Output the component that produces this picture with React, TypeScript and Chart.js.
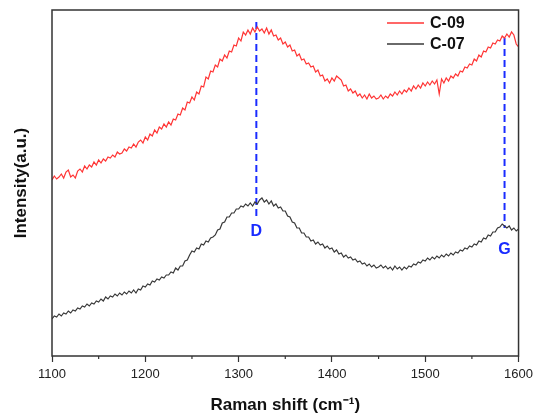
import React, { useEffect, useRef } from "react";
import { Chart, registerables } from "chart.js";

Chart.register(...registerables);

// Raman shift sampling grid (cm-1): 1100 to 1600 every 2.5
const shiftStart = 1100;
const shiftStep = 2.5;

const c09 = [
  176, 180, 177, 179, 182, 178, 184, 186, 179, 181,
  178, 185, 187, 184, 190, 187, 191, 189, 194, 191,
  196, 193, 197, 195, 199, 198, 201, 199, 204, 202,
  203, 207, 205, 209, 208, 212, 209, 214, 216, 213,
  219, 216, 222, 220, 226, 223, 229, 227, 232, 229,
  234, 231, 237, 236, 242, 241, 248, 246, 254, 253,
  259, 256, 264, 262, 270, 269, 279, 277, 285, 284,
  291, 289, 297, 295, 301, 298, 305, 304, 311, 310,
  318, 315, 324, 321, 326, 322, 328, 324, 329, 325,
  327, 323, 328, 322, 326, 320, 321, 316, 318, 312,
  314, 309, 311, 305, 306, 300, 302, 296, 297, 292,
  293, 289, 290, 284, 286, 280, 281, 275, 277, 273,
  278, 275, 280, 278, 276, 270, 271, 265, 267, 263,
  265, 260, 262, 258, 261, 257, 262, 258, 260, 257,
  258, 261, 257, 260, 258, 262, 260, 264, 261, 265,
  262, 266, 264, 268, 265, 270, 267, 271, 268, 273,
  270, 274, 271, 275, 272, 276, 262, 277, 273, 278,
  275, 280, 278, 282, 280, 285, 284, 289, 288, 292,
  291, 297, 295, 301, 299, 305, 304, 309, 308, 313,
  312, 316, 315, 320, 318, 322, 319, 324, 321, 312,
  309,
];

const c07 = [
  37, 40, 39, 42, 40, 43, 42, 45, 43, 46,
  45, 48, 47, 50, 49, 52, 50, 53, 52, 55,
  54, 57, 55, 59, 57, 60, 59, 62, 60, 63,
  61, 64, 62, 65, 63, 66, 63, 67, 66, 70,
  69, 72, 71, 75, 74, 77, 76, 79, 78, 81,
  81, 84, 83, 88, 86, 90, 90, 95, 96, 101,
  105, 104, 108, 107, 112, 111, 115, 114, 118, 119,
  121, 126, 127, 133, 134, 139, 139, 143, 143, 147,
  147, 150, 149, 152, 150, 153, 150, 154, 152, 156,
  158, 154, 156, 152, 155, 150, 152, 148, 149, 145,
  145, 140, 139, 134, 133, 128, 128, 123, 123, 119,
  119, 115, 116, 112, 114, 111, 112, 108, 110, 107,
  108, 104, 106, 102, 103, 99, 101, 98, 99, 96,
  97, 94, 95, 92, 93, 90, 92, 89, 91, 88,
  89, 91, 88, 90, 87, 89, 86, 90, 87, 89,
  86, 89, 87, 90, 89, 92, 91, 94, 93, 96,
  95, 98, 96, 99, 97, 100, 98, 101, 99, 102,
  100, 103, 101, 104, 103, 106, 105, 108, 107, 110,
  109, 112, 111, 115, 114, 118, 117, 121, 120, 124,
  124, 128, 129, 132, 130, 128, 130, 126, 128, 125,
  127,
];

const seriesLabels = ["C-09", "C-07"];
const xTickValues = [1100, 1200, 1300, 1400, 1500, 1600];
const xMinorTicks = [1150, 1250, 1350, 1450, 1550];
const peakNames = ["D", "G"];
const peakShift = [1319, 1585];
const peakLineTop = [334, 318];
const peakLineBottom = [136, 128];
const peakLabelY = [124, 106];

const FONT = "'Liberation Sans', Arial, sans-serif";
const RED = "#ff3434";
const DARK = "#383838";
const BLUE = "#1a2cff";

const framePlugin = {
  id: "frameAndExtras",
  afterDraw(chart: any) {
    const { ctx, chartArea, scales } = chart;
    const xs = scales.x;
    const ys = scales.y;
    ctx.save();
    ctx.strokeStyle = "#333";
    ctx.lineWidth = 1.5;
    ctx.strokeRect(chartArea.left, chartArea.top, chartArea.right - chartArea.left, chartArea.bottom - chartArea.top);
    ctx.lineWidth = 1.2;
    xMinorTicks.forEach((v) => {
      const px = xs.getPixelForValue(v);
      ctx.beginPath();
      ctx.moveTo(px, chartArea.bottom);
      ctx.lineTo(px, chartArea.bottom + 3);
      ctx.stroke();
    });
    ctx.fillStyle = BLUE;
    ctx.font = `bold 16px ${FONT}`;
    ctx.textAlign = "center";
    ctx.textBaseline = "middle";
    peakNames.forEach((n, i) => {
      ctx.fillText(n, xs.getPixelForValue(peakShift[i]), ys.getPixelForValue(peakLabelY[i]));
    });
    const lx0 = 387;
    const lx1 = 424;
    const ly0 = 23;
    const dy = 21;
    ctx.font = `bold 16px ${FONT}`;
    ctx.textAlign = "left";
    seriesLabels.forEach((lab, i) => {
      const ds = chart.data.datasets[i];
      const y = ly0 + i * dy;
      ctx.strokeStyle = ds.borderColor;
      ctx.lineWidth = 1.5;
      ctx.beginPath();
      ctx.moveTo(lx0, y);
      ctx.lineTo(lx1, y);
      ctx.stroke();
      ctx.fillStyle = "#111";
      ctx.fillText(lab, lx1 + 6, y + 1);
    });
    ctx.restore();
  },
};

export default function App() {
  const ref = useRef<HTMLCanvasElement | null>(null);
  useEffect(() => {
    if (!ref.current) return;
    const shifts = c09.map((_, i) => shiftStart + i * shiftStep);
    const datasets: any[] = [
      {
        label: seriesLabels[0],
        data: shifts.map((x, i) => ({ x, y: c09[i] })),
        borderColor: RED,
        borderWidth: 1.2,
        pointRadius: 0,
        tension: 0,
      },
      {
        label: seriesLabels[1],
        data: shifts.map((x, i) => ({ x, y: c07[i] })),
        borderColor: DARK,
        borderWidth: 1.2,
        pointRadius: 0,
        tension: 0,
      },
    ];
    peakNames.forEach((n, i) => {
      datasets.push({
        label: n,
        data: [
          { x: peakShift[i], y: peakLineTop[i] },
          { x: peakShift[i], y: peakLineBottom[i] },
        ],
        borderColor: BLUE,
        borderWidth: 2,
        borderDash: [7, 4],
        pointRadius: 0,
      });
    });
    const chart = new Chart(ref.current, {
      type: "line",
      data: { datasets },
      options: {
        animation: false,
        responsive: false,
        devicePixelRatio: 1,
        layout: { padding: { top: 10, right: 17, left: 0, bottom: 0 } },
        plugins: { legend: { display: false }, tooltip: { enabled: false } },
        scales: {
          x: {
            type: "linear",
            min: 1100,
            max: 1600,
            afterBuildTicks: (s: any) => {
              s.ticks = xTickValues.map((v) => ({ value: v }));
            },
            afterFit: (s: any) => {
              s.height = 58;
            },
            grid: { display: true, drawOnChartArea: false, tickLength: 6, tickColor: "#333", tickWidth: 1.2 },
            border: { display: false },
            ticks: {
              color: "#222",
              font: { family: FONT, size: 13 },
              padding: 5,
              maxRotation: 0,
              callback: (v: any) => String(v),
            },
            title: {
              display: true,
              text: "Raman shift (cm⁻¹)",
              color: "#111",
              font: { family: FONT, size: 17, weight: "bold", lineHeight: 1 },
              padding: { top: 0, bottom: 0 },
            },
          },
          y: {
            type: "linear",
            min: 0,
            max: 346,
            afterFit: (s: any) => {
              s.width = 52;
            },
            grid: { display: false },
            border: { display: false },
            ticks: { display: false },
            title: {
              display: true,
              text: "Intensity(a.u.)",
              color: "#111",
              font: { family: FONT, size: 17, weight: "bold" },
              padding: { top: 11, bottom: 0 },
            },
          },
        },
      },
      plugins: [framePlugin],
    });
    return () => chart.destroy();
  }, []);
  return (
    <div style={{ position: "fixed", left: 0, top: 0, width: 538, height: 414, background: "#fff" }}>
      <canvas ref={ref} width={538} height={414} style={{ width: 538, height: 414 }} />
    </div>
  );
}
